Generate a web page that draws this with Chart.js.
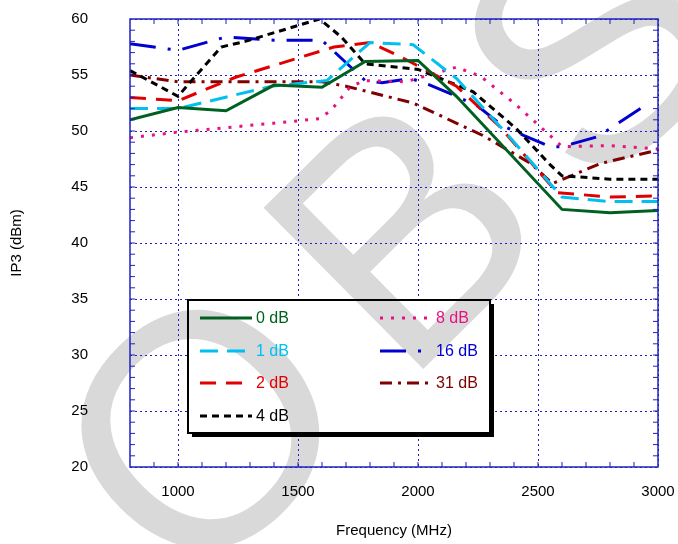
<!DOCTYPE html>
<html>
<head>
<meta charset="utf-8">
<script src="https://cdn.jsdelivr.net/npm/chart.js@4/dist/chart.umd.min.js"></script>
<style>
  html, body { margin: 0; padding: 0; background: #fff; }
  #wrap { width: 678px; height: 544px; }
</style>
</head>
<body>
<div id="wrap"><canvas id="chart"></canvas></div>
<script>
// Series data: frequency (MHz) and IP3 (dBm)
const labels = ["0 dB", "1 dB", "2 dB", "4 dB", "8 dB", "16 dB", "31 dB"];
const colors = ["#006020", "#00c0f0", "#e00000", "#000000", "#e8127f", "#0000d0", "#800000"];
const dashes = [[], [18, 9], [16, 10], [7, 5], [3, 8], [26, 12, 3, 12], [12, 6, 3, 6]];

const freq0 = [800, 1000, 1200, 1400, 1600, 1780, 2000, 2160, 2600, 2800, 3000];
const ip3_0 = [51.0, 52.1, 51.8, 54.1, 53.9, 56.2, 56.3, 53.1, 43.0, 42.7, 42.9];
const freq1 = [800, 1000, 1390, 1620, 1800, 1980, 2160, 2380, 2600, 2800, 3000];
const ip3_1 = [52.0, 52.0, 54.0, 54.5, 57.9, 57.7, 54.7, 49.5, 44.1, 43.7, 43.7];
const freq2 = [800, 1000, 1240, 1650, 1800, 1930, 2160, 2340, 2580, 2800, 3000];
const ip3_2 = [53.0, 52.7, 54.8, 57.5, 57.9, 56.6, 54.0, 50.4, 44.5, 44.1, 44.2];
const freq4 = [800, 1000, 1180, 1280, 1590, 1680, 1780, 2000, 2230, 2410, 2550, 2600, 2800, 3000];
const ip3_4 = [55.4, 53.1, 57.5, 58.0, 60.0, 58.4, 56.0, 55.5, 53.5, 50.2, 47.0, 46.0, 45.7, 45.7];
const freq8 = [800, 1000, 1400, 1590, 1640, 1720, 1780, 1950, 2160, 2260, 2400, 2550, 2600, 2800, 3000];
const ip3_8 = [49.4, 49.9, 50.7, 51.1, 51.9, 54.0, 54.5, 54.4, 55.7, 54.9, 52.5, 49.6, 48.6, 48.7, 48.4];
const freq16 = [800, 1000, 1200, 1400, 1600, 1780, 1850, 1970, 2050, 2160, 2250, 2350, 2440, 2550, 2600, 2750, 2940];
const ip3_16 = [57.8, 57.2, 58.4, 58.1, 58.1, 54.5, 54.3, 54.7, 54.1, 53.1, 52.2, 50.5, 49.6, 48.6, 48.6, 49.5, 52.2];
const freq31 = [800, 1000, 1600, 1700, 1980, 2270, 2470, 2560, 2760, 3000];
const ip3_31 = [55.0, 54.4, 54.4, 54.0, 52.5, 49.6, 47.1, 45.3, 47.1, 48.3];

const freqs = [freq0, freq1, freq2, freq4, freq8, freq16, freq31];
const values = [ip3_0, ip3_1, ip3_2, ip3_4, ip3_8, ip3_16, ip3_31];
const xTicks = [1000, 1500, 2000, 2500, 3000];
const yTicks = [20, 25, 30, 35, 40, 45, 50, 55, 60];

const gridColor = "#2020c0";
const font = "'Liberation Sans', Arial, sans-serif";

const datasets = labels.map((name, i) => ({
  label: name,
  data: freqs[i].map((f, j) => ({ x: f, y: values[i][j] })),
  borderColor: colors[i],
  borderWidth: 3,
  borderDash: dashes[i],
  pointRadius: 0,
  tension: 0,
  fill: false
}));

function drawMark(ctx) {
  ctx.save();
  ctx.translate(400, 250);
  ctx.rotate(-0.78);
  ctx.fillStyle = "#d9d9d9";
  ctx.font = "330px " + font;
  ctx.letterSpacing = "45px";
  ctx.textAlign = "center";
  ctx.textBaseline = "middle";
  ctx.fillText("OBS", 20, 10);
  ctx.restore();
}

const watermark = {
  id: "watermark",
  beforeDraw(chart) { drawMark(chart.ctx); },
  beforeDatasetsDraw(chart) {
    const ctx = chart.ctx;
    ctx.save();
    ctx.fillStyle = "#000";
    ctx.fillRect(192, 304, 302, 133);
    ctx.fillStyle = "#fff";
    ctx.fillRect(188, 300, 302, 133);
    ctx.beginPath();
    ctx.rect(188, 300, 302, 133);
    ctx.clip();
    drawMark(ctx);
    ctx.restore();
    ctx.save();
    ctx.strokeStyle = "#000";
    ctx.lineWidth = 2;
    ctx.strokeRect(188, 300, 302, 133);
    ctx.restore();
  }
};

const frame = {
  id: "frame",
  afterDraw(chart) {
    const ctx = chart.ctx;
    const a = chart.chartArea;
    const xs = chart.scales.x, ys = chart.scales.y;
    ctx.save();
    ctx.strokeStyle = gridColor;
    ctx.lineWidth = 1.5;
    ctx.strokeRect(a.left, a.top, a.right - a.left, a.bottom - a.top);
    ctx.lineWidth = 1;
    ctx.beginPath();
    for (let v = 21; v < 60; v++) {
      const y = ys.getPixelForValue(v);
      ctx.moveTo(a.left, y); ctx.lineTo(a.left + 5, y);
      ctx.moveTo(a.right, y); ctx.lineTo(a.right - 5, y);
    }
    for (let f = 900; f < 3000; f += 100) {
      const x = xs.getPixelForValue(f);
      ctx.moveTo(x, a.top); ctx.lineTo(x, a.top + 5);
      ctx.moveTo(x, a.bottom); ctx.lineTo(x, a.bottom - 5);
    }
    ctx.stroke();
    ctx.restore();

    ctx.save();
    ctx.font = "16px " + font;
    ctx.textBaseline = "middle";
    const rows = [318, 351, 383, 416];
    labels.forEach((name, i) => {
      const col = i < 4 ? 0 : 1;
      const row = i < 4 ? i : i - 4;
      const x0 = col === 0 ? 200 : 380;
      const y = rows[row];
      ctx.strokeStyle = colors[i];
      ctx.lineWidth = 3;
      ctx.setLineDash(dashes[i]);
      ctx.beginPath();
      ctx.moveTo(x0, y); ctx.lineTo(x0 + 52, y);
      ctx.stroke();
      ctx.setLineDash([]);
      ctx.fillStyle = colors[i];
      ctx.fillText(name, x0 + 56, y + 1);
    });
    ctx.restore();
  }
};

new Chart(document.getElementById("chart"), {
  type: "line",
  data: { datasets },
  plugins: [watermark, frame],
  options: {
    responsive: true,
    maintainAspectRatio: false,
    animation: false,
    layout: { padding: { top: 19, right: 20, left: 0, bottom: 0 } },
    plugins: { legend: { display: false }, tooltip: { enabled: false } },
    scales: {
      x: {
        type: "linear",
        min: 800, max: 3000,
        afterBuildTicks: s => { s.ticks = xTicks.map(v => ({ value: v })); },
        afterFit: s => { s.height = 77; s.paddingLeft = 0; s.paddingRight = 0; },
        grid: { color: gridColor, tickLength: 0, drawTicks: false },
        border: { display: false, dash: [2, 3] },
        ticks: { color: "#000", padding: 16, callback: v => String(v), font: { size: 15, family: font }, maxRotation: 0 },
        title: { display: true, text: "Frequency (MHz)", color: "#000", padding: { top: 20 }, font: { size: 15, family: font } }
      },
      y: {
        min: 20, max: 60,
        afterBuildTicks: s => { s.ticks = yTicks.map(v => ({ value: v })); },
        afterFit: s => { s.width = 130; s.paddingTop = 0; s.paddingBottom = 0; },
        grid: { color: gridColor, tickLength: 0, drawTicks: false },
        border: { display: false, dash: [2, 3] },
        ticks: { color: "#000", padding: 42, font: { size: 15, family: font } },
        title: { display: true, text: "IP3 (dBm)", color: "#000", padding: { top: 8, bottom: 0 }, font: { size: 15, family: font } }
      }
    }
  }
});
</script>
</body>
</html>
